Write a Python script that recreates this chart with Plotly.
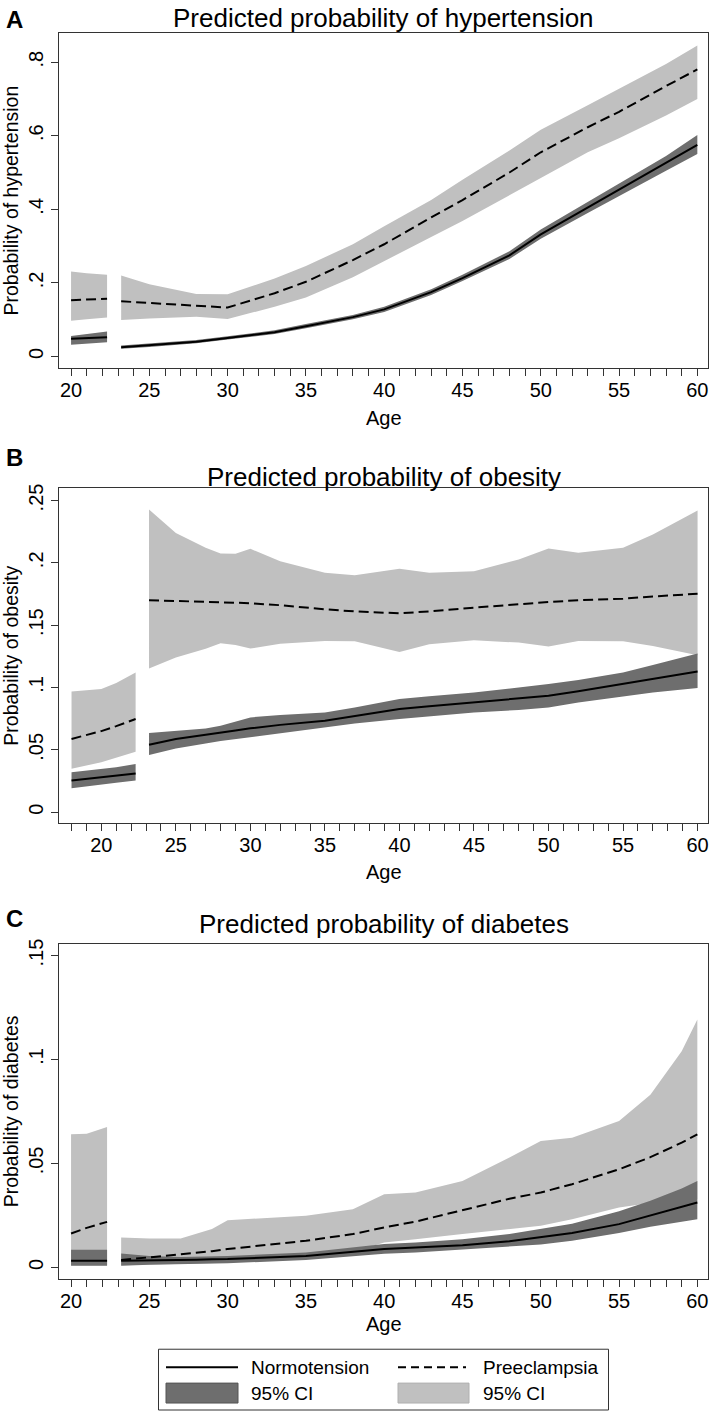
import plotly.graph_objects as go

W, H = 709, 1413
DARK = '#6e6e6e'
LIGHT = '#c0c0c0'
FRAME = '#333333'
FONT = 'Liberation Sans, Arial, sans-serif'

# ---------------- Panel A: hypertension ----------------
hyp_age1 = [20, 21, 22.3]
hyp_norm1 = [0.048, 0.050, 0.052]
hyp_norm_lo1 = [0.032, 0.035, 0.039]
hyp_norm_hi1 = [0.056, 0.062, 0.068]
hyp_pre1 = [0.153, 0.155, 0.157]
hyp_pre_lo1 = [0.097, 0.101, 0.106]
hyp_pre_hi1 = [0.231, 0.226, 0.222]

hyp_age2 = [23.2, 25, 28, 30, 33, 35, 38, 40, 43, 45, 48, 50, 53, 55, 58, 60]
hyp_norm2 = [0.025, 0.030, 0.040, 0.050, 0.066, 0.082, 0.107, 0.128, 0.175, 0.213,
             0.275, 0.332, 0.405, 0.453, 0.525, 0.575]
hyp_norm_lo2 = [0.021, 0.026, 0.036, 0.046, 0.061, 0.077, 0.101, 0.121, 0.167, 0.205,
                0.265, 0.320, 0.390, 0.437, 0.505, 0.550]
hyp_norm_hi2 = [0.030, 0.035, 0.045, 0.055, 0.071, 0.088, 0.113, 0.135, 0.183, 0.222,
                0.286, 0.345, 0.420, 0.469, 0.545, 0.602]
hyp_pre2 = [0.150, 0.146, 0.138, 0.133, 0.172, 0.203, 0.262, 0.305, 0.378, 0.425,
            0.500, 0.555, 0.623, 0.665, 0.735, 0.780]
hyp_pre_lo2 = [0.099, 0.103, 0.108, 0.102, 0.135, 0.160, 0.215, 0.258, 0.325, 0.368,
               0.437, 0.485, 0.555, 0.593, 0.655, 0.700]
hyp_pre_hi2 = [0.220, 0.196, 0.170, 0.169, 0.212, 0.246, 0.305, 0.354, 0.425, 0.480,
               0.560, 0.616, 0.683, 0.728, 0.795, 0.845]

# ---------------- Panel B: obesity ----------------
obe_age1 = [18, 20, 21, 22.3]
obe_norm1 = [0.0253, 0.028, 0.0295, 0.031]
obe_norm_lo1 = [0.0192, 0.022, 0.0235, 0.0253]
obe_norm_hi1 = [0.032, 0.0345, 0.036, 0.0387]
obe_pre1 = [0.0587, 0.065, 0.069, 0.0747]
obe_pre_lo1 = [0.0347, 0.040, 0.044, 0.0485]
obe_pre_hi1 = [0.0968, 0.0987, 0.1035, 0.112]

obe_age2 = [23.2, 25, 27, 28, 29, 30, 32, 35, 37, 40, 42, 45, 48, 50, 52, 55, 57, 60]
obe_norm2 = [0.054, 0.0587, 0.062, 0.064, 0.0655, 0.0672, 0.070, 0.0733, 0.077, 0.0827,
             0.085, 0.088, 0.091, 0.0933, 0.097, 0.1027, 0.107, 0.1128]
obe_norm_lo2 = [0.0459, 0.051, 0.055, 0.057, 0.0585, 0.060, 0.063, 0.068, 0.071, 0.0747,
                0.077, 0.080, 0.082, 0.084, 0.088, 0.0928, 0.096, 0.0995]
obe_norm_hi2 = [0.0635, 0.065, 0.067, 0.0693, 0.0725, 0.076, 0.078, 0.080, 0.084, 0.0907,
                0.093, 0.096, 0.100, 0.1027, 0.106, 0.112, 0.118, 0.1272]
obe_pre2 = [0.170, 0.1695, 0.169, 0.1685, 0.168, 0.1675, 0.166, 0.1627, 0.161, 0.1595,
            0.161, 0.164, 0.167, 0.1685, 0.170, 0.1712, 0.173, 0.1752]
obe_pre_lo2 = [0.1152, 0.124, 0.131, 0.1355, 0.134, 0.1312, 0.135, 0.1373, 0.137, 0.1285,
               0.1347, 0.1379, 0.136, 0.1328, 0.1373, 0.137, 0.1333, 0.1259]
obe_pre_hi2 = [0.2427, 0.224, 0.212, 0.2075, 0.2072, 0.2112, 0.2013, 0.192, 0.190, 0.1952,
               0.192, 0.1933, 0.2027, 0.2115, 0.208, 0.212, 0.2227, 0.2419]

# ---------------- Panel C: diabetes ----------------
dia_age1 = [20, 21, 22.3]
dia_norm1 = [0.0032, 0.0032, 0.0032]
dia_norm_lo1 = [0.0008, 0.0008, 0.0008]
dia_norm_hi1 = [0.0085, 0.0085, 0.0085]
dia_pre1 = [0.0163, 0.019, 0.0219]
dia_pre_lo1 = [0.0010, 0.0010, 0.0010]
dia_pre_hi1 = [0.064, 0.0643, 0.0675]

dia_age2 = [23.2, 25, 27, 28, 29, 30, 35, 38, 40, 42, 45, 48, 50, 52, 55, 57, 59, 60]
dia_norm2 = [0.0032, 0.0033, 0.0035, 0.0037, 0.0039, 0.0040, 0.0055, 0.0075, 0.0088, 0.0095,
             0.0106, 0.0125, 0.0144, 0.0165, 0.0208, 0.025, 0.029, 0.0312]
dia_norm_lo2 = [0.0008, 0.0012, 0.0015, 0.0017, 0.0019, 0.0020, 0.0035, 0.0052, 0.0065, 0.0072,
                0.0085, 0.0100, 0.0110, 0.0128, 0.0165, 0.0195, 0.022, 0.0232]
dia_norm_hi2 = [0.0067, 0.0055, 0.0050, 0.0051, 0.0053, 0.0055, 0.0072, 0.0098, 0.0112, 0.0120,
                0.0135, 0.0160, 0.0185, 0.0210, 0.0270, 0.032, 0.038, 0.0416]
dia_pre2 = [0.0035, 0.0048, 0.0062, 0.0068, 0.0078, 0.0088, 0.0128, 0.0160, 0.0192, 0.0220,
            0.0275, 0.0330, 0.0360, 0.0400, 0.0472, 0.053, 0.060, 0.0640]
dia_pre_lo2 = [0.0010, 0.0012, 0.0015, 0.0017, 0.0020, 0.0022, 0.0045, 0.0075, 0.0120, 0.0135,
               0.0160, 0.0185, 0.0200, 0.0232, 0.0288, 0.031, 0.0325, 0.0328]
dia_pre_hi2 = [0.0144, 0.0139, 0.0139, 0.0160, 0.0184, 0.0227, 0.0248, 0.0280, 0.0352, 0.0360,
               0.0416, 0.0528, 0.0608, 0.0624, 0.0704, 0.083, 0.104, 0.1192]

# ---------------- Axes labels ----------------
x_tick_vals = [20, 25, 30, 35, 40, 45, 50, 55, 60]
x_tick_text = ['20', '25', '30', '35', '40', '45', '50', '55', '60']
hyp_y_vals = [0, 0.2, 0.4, 0.6, 0.8]
hyp_y_text = ['0', '.2', '.4', '.6', '.8']
obe_y_vals = [0, 0.05, 0.1, 0.15, 0.2, 0.25]
obe_y_text = ['0', '.05', '.1', '.15', '.2', '.25']
dia_y_vals = [0, 0.05, 0.1, 0.15]
dia_y_text = ['0', '.05', '.1', '.15']

titles = ['Predicted probability of hypertension',
          'Predicted probability of obesity',
          'Predicted probability of diabetes']
y_titles = ['Probability of hypertension', 'Probability of obesity', 'Probability of diabetes']
letters = ['A', 'B', 'C']
legend_labels = ['Normotension', 'Preeclampsia', '95% CI', '95% CI']


def px(x):
    return x / W


def py(y):
    return 1 - y / H


fig = go.Figure()


def add_panel(ax, segments):
    xa, ya = ('x', 'y') if ax == 1 else ('x%d' % ax, 'y%d' % ax)
    for (age, n, nlo, nhi, p, plo, phi) in segments:
        fig.add_trace(go.Scatter(x=list(age) + list(age)[::-1], y=list(phi) + list(plo)[::-1],
                                 fill='toself', fillcolor=LIGHT, mode='lines', line=dict(width=0),
                                 hoverinfo='skip', showlegend=False, xaxis=xa, yaxis=ya))
    for (age, n, nlo, nhi, p, plo, phi) in segments:
        fig.add_trace(go.Scatter(x=list(age) + list(age)[::-1], y=list(nhi) + list(nlo)[::-1],
                                 fill='toself', fillcolor=DARK, mode='lines', line=dict(width=0),
                                 hoverinfo='skip', showlegend=False, xaxis=xa, yaxis=ya))
    for (age, n, nlo, nhi, p, plo, phi) in segments:
        fig.add_trace(go.Scatter(x=age, y=n, mode='lines', line=dict(color='black', width=2),
                                 showlegend=False, xaxis=xa, yaxis=ya))
        fig.add_trace(go.Scatter(x=age, y=p, mode='lines',
                                 line=dict(color='black', width=2, dash='10px,5px'),
                                 showlegend=False, xaxis=xa, yaxis=ya))


add_panel(1, [(hyp_age1, hyp_norm1, hyp_norm_lo1, hyp_norm_hi1, hyp_pre1, hyp_pre_lo1, hyp_pre_hi1),
              (hyp_age2, hyp_norm2, hyp_norm_lo2, hyp_norm_hi2, hyp_pre2, hyp_pre_lo2, hyp_pre_hi2)])
add_panel(2, [(obe_age1, obe_norm1, obe_norm_lo1, obe_norm_hi1, obe_pre1, obe_pre_lo1, obe_pre_hi1),
              (obe_age2, obe_norm2, obe_norm_lo2, obe_norm_hi2, obe_pre2, obe_pre_lo2, obe_pre_hi2)])
add_panel(3, [(dia_age1, dia_norm1, dia_norm_lo1, dia_norm_hi1, dia_pre1, dia_pre_lo1, dia_pre_hi1),
              (dia_age2, dia_norm2, dia_norm_lo2, dia_norm_hi2, dia_pre2, dia_pre_lo2, dia_pre_hi2)])

# panel geometry in page pixels (top, bottom)
panels = [
    dict(top=28.5, bot=364, xr=[19.23, 60.7], yr=[-0.0305, 0.878], yv=hyp_y_vals, yt=hyp_y_text,
         title_y=13, age_y=414, letter_y=15),
    dict(top=485, bot=821, xr=[17.16, 60.72], yr=[-0.0088, 0.2598], yv=obe_y_vals, yt=obe_y_text,
         title_y=474, age_y=870, letter_y=454),
    dict(top=942.3, bot=1278.3, xr=[19.23, 60.7], yr=[-0.0055, 0.1556], yv=dia_y_vals, yt=dia_y_text,
         title_y=922, age_y=1324, letter_y=917),
]

x_left, x_right = 59, 708.3
layout_axes = {}
annotations = []
for i, p in enumerate(panels):
    sfx = '' if i == 0 else str(i + 1)
    layout_axes['xaxis' + sfx] = dict(
        domain=[px(x_left), px(x_right)], range=p['xr'], anchor='y' + sfx,
        tickvals=x_tick_vals, ticktext=x_tick_text, ticks='outside', ticklen=7,
        tickcolor=FRAME, tickwidth=1, ticklabelstandoff=-3,
        minor=dict(dtick=1, tick0=0, ticks='outside', ticklen=7, tickcolor=FRAME, tickwidth=1),
        showline=True, mirror=True, linecolor=FRAME, linewidth=1,
        showgrid=False, zeroline=False, tickfont=dict(size=20, color='black'))
    layout_axes['yaxis' + sfx] = dict(
        domain=[py(p['bot']), py(p['top'])], range=p['yr'], anchor='x' + sfx,
        tickvals=p['yv'], ticktext=p['yt'], tickangle=-90, ticks='outside', ticklen=7,
        tickcolor=FRAME, tickwidth=1,
        showline=True, mirror=True, linecolor=FRAME, linewidth=1,
        showgrid=False, zeroline=False, tickfont=dict(size=20, color='black'))
    cx = (x_left + x_right) / 2
    annotations.append(dict(text=titles[i], x=px(cx), y=py(p['title_y']), xref='paper', yref='paper',
                            xanchor='center', yanchor='middle', showarrow=False,
                            font=dict(size=26, color='black')))
    annotations.append(dict(text='Age', x=px(cx), y=py(p['age_y']), xref='paper', yref='paper',
                            xanchor='center', yanchor='middle', showarrow=False,
                            font=dict(size=20, color='black')))
    annotations.append(dict(text=y_titles[i], x=px(11), y=py((p['top'] + p['bot']) / 2),
                            xref='paper', yref='paper', xanchor='center', yanchor='middle',
                            textangle=-90, showarrow=False, font=dict(size=19.5, color='black')))
    annotations.append(dict(text='<b>%s</b>' % letters[i], x=px(15), y=py(p['letter_y']),
                            xref='paper', yref='paper', xanchor='center', yanchor='middle',
                            showarrow=False, font=dict(size=24, color='black')))

# legend (drawn manually, two columns)
shapes = [
    dict(type='rect', xref='paper', yref='paper', x0=px(158.5), x1=px(608.5), y0=py(1410), y1=py(1349),
         line=dict(color=FRAME, width=1), fillcolor='white'),
    dict(type='line', xref='paper', yref='paper', x0=px(166), x1=px(238), y0=py(1367), y1=py(1367),
         line=dict(color='black', width=2)),
    dict(type='line', xref='paper', yref='paper', x0=px(398), x1=px(466), y0=py(1367), y1=py(1367),
         line=dict(color='black', width=2, dash='8px,5px')),
    dict(type='rect', xref='paper', yref='paper', x0=px(166), x1=px(238), y0=py(1403), y1=py(1383),
         line=dict(color='#555555', width=1), fillcolor=DARK),
    dict(type='rect', xref='paper', yref='paper', x0=px(398), x1=px(469), y0=py(1403), y1=py(1383),
         line=dict(color='#b0b0b0', width=1), fillcolor=LIGHT),
]
for (lx, ly, txt) in [(249, 1367, legend_labels[0]), (481, 1367, legend_labels[1]),
                      (249, 1393, legend_labels[2]), (481, 1393, legend_labels[3])]:
    annotations.append(dict(text=txt, x=px(lx), y=py(ly), xref='paper', yref='paper',
                            xanchor='left', yanchor='middle', showarrow=False,
                            font=dict(size=19, color='black')))

fig.update_layout(
    width=W, height=H, margin=dict(l=0, r=0, t=0, b=0),
    paper_bgcolor='white', plot_bgcolor='white',
    font=dict(family=FONT, color='black'),
    showlegend=False, annotations=annotations, shapes=shapes,
    **layout_axes)

# remove the browser's default 8px page margin so the figure fills the window exactly
fig.write_html('out.html', config={'displayModeBar': False},
               post_script="document.body.style.margin='0';document.body.style.overflow='hidden';")
